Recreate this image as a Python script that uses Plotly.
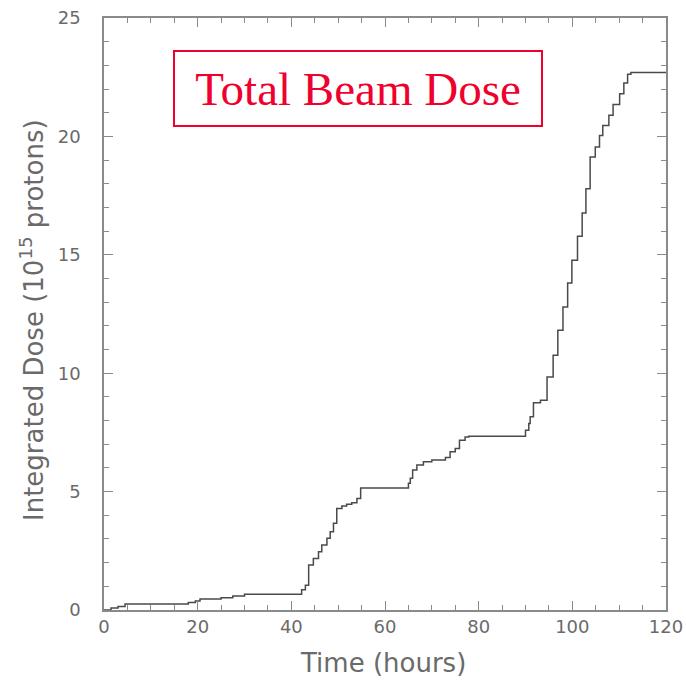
import plotly.graph_objects as go

# Step points: time (hours) where the integrated dose changes, and the new dose value (10^15 protons)
time_hours = [0, 1.5, 3, 4.5, 18, 19.5, 20.5, 25, 27.5, 30, 42.2, 43, 43.7, 44.7, 45.8, 46.5,
              47.6, 48.3, 49, 49.7, 50.8, 51.8, 52.9, 54, 54.8, 65, 65.4, 65.9, 66.8, 68.2,
              70, 72.9, 73.9, 75, 75.9, 77.1, 77.9, 90, 90.7, 91, 91.7, 93.2, 94.6, 95.9,
              96.9, 98, 99, 99.9, 101.1, 102.1, 102.9, 103.8, 104.9, 105.8, 106.5, 107.8,
              108.7, 110.1, 111, 111.8, 112.5, 120]
dose = [0.0, 0.08, 0.15, 0.25, 0.32, 0.38, 0.46, 0.52, 0.59, 0.67, 0.85, 1.05, 1.9, 2.18, 2.46, 2.74,
        3.03, 3.3, 3.66, 4.29, 4.39, 4.47, 4.53, 4.71, 5.15, 5.35, 5.56, 5.91, 6.12, 6.26,
        6.33, 6.44, 6.68, 6.82, 7.17, 7.31, 7.34, 7.59, 7.88, 8.16, 8.75, 8.86, 9.84, 10.76,
        11.81, 12.8, 13.81, 14.77, 15.78, 16.77, 17.79, 19.13, 19.55, 20.04, 20.46, 20.89,
        21.35, 21.8, 22.25, 22.62, 22.7, 22.7]

x_ticks = [0, 20, 40, 60, 80, 100, 120]
y_ticks = [0, 5, 10, 15, 20, 25]

title_text = "Total Beam Dose"
x_title = "Time (hours)"
y_title = "Integrated Dose (10<sup>15</sup> protons)"

frame_col = "#8a8a8a"
label_col = "#6a6a6a"
font_fam = "DejaVu Sans"

fig = go.Figure()
fig.add_trace(go.Scatter(x=time_hours, y=dose, mode="lines", line_shape="hv",
                         line=dict(color="#4a4a4a", width=1.5), showlegend=False,
                         hoverinfo="skip"))

axis_common = dict(showgrid=False, zeroline=False, showline=True, linecolor=frame_col,
                   linewidth=1.5, mirror="ticks", ticks="inside", tickcolor=frame_col,
                   tickwidth=1.2, ticklen=9, automargin=False,
                   tickfont=dict(family=font_fam, size=18, color=label_col))

fig.update_xaxes(range=[0, 120], tickmode="array", tickvals=x_ticks,
                 ticktext=[str(v) for v in x_ticks], ticklabelstandoff=0,
                 minor=dict(ticks="inside", dtick=5, ticklen=5, tickcolor=frame_col, tickwidth=1.2),
                 **axis_common)
fig.update_yaxes(range=[0, 25], tickmode="array", tickvals=y_ticks,
                 ticktext=[str(v) for v in y_ticks], ticklabelstandoff=18,
                 minor=dict(ticks="inside", dtick=1, ticklen=5, tickcolor=frame_col, tickwidth=1.2),
                 **axis_common)

fig.add_annotation(text=title_text, xref="paper", yref="paper", x=0.452, y=0.881,
                   xanchor="center", yanchor="middle", showarrow=False,
                   font=dict(family="Liberation Serif", size=47, color="#f0002d"),
                   bordercolor="#f0002d", borderwidth=2, borderpad=1,
                   width=364, height=71, align="center", valign="middle",
                   bgcolor="white")

fig.add_annotation(text=x_title, xref="paper", yref="paper", x=0.496, y=-0.09,
                   xanchor="center", yanchor="middle", showarrow=False,
                   font=dict(family=font_fam, size=26, color=label_col))
fig.add_annotation(text=y_title, xref="paper", yref="paper", x=-0.128, y=0.49,
                   xanchor="center", yanchor="middle", showarrow=False, textangle=-90,
                   font=dict(family=font_fam, size=26, color=label_col))

fig.update_layout(width=686, height=682, margin=dict(l=104, r=20, t=18, b=72, autoexpand=False),
                  paper_bgcolor="white", plot_bgcolor="white")

fig.write_html("out.html")
